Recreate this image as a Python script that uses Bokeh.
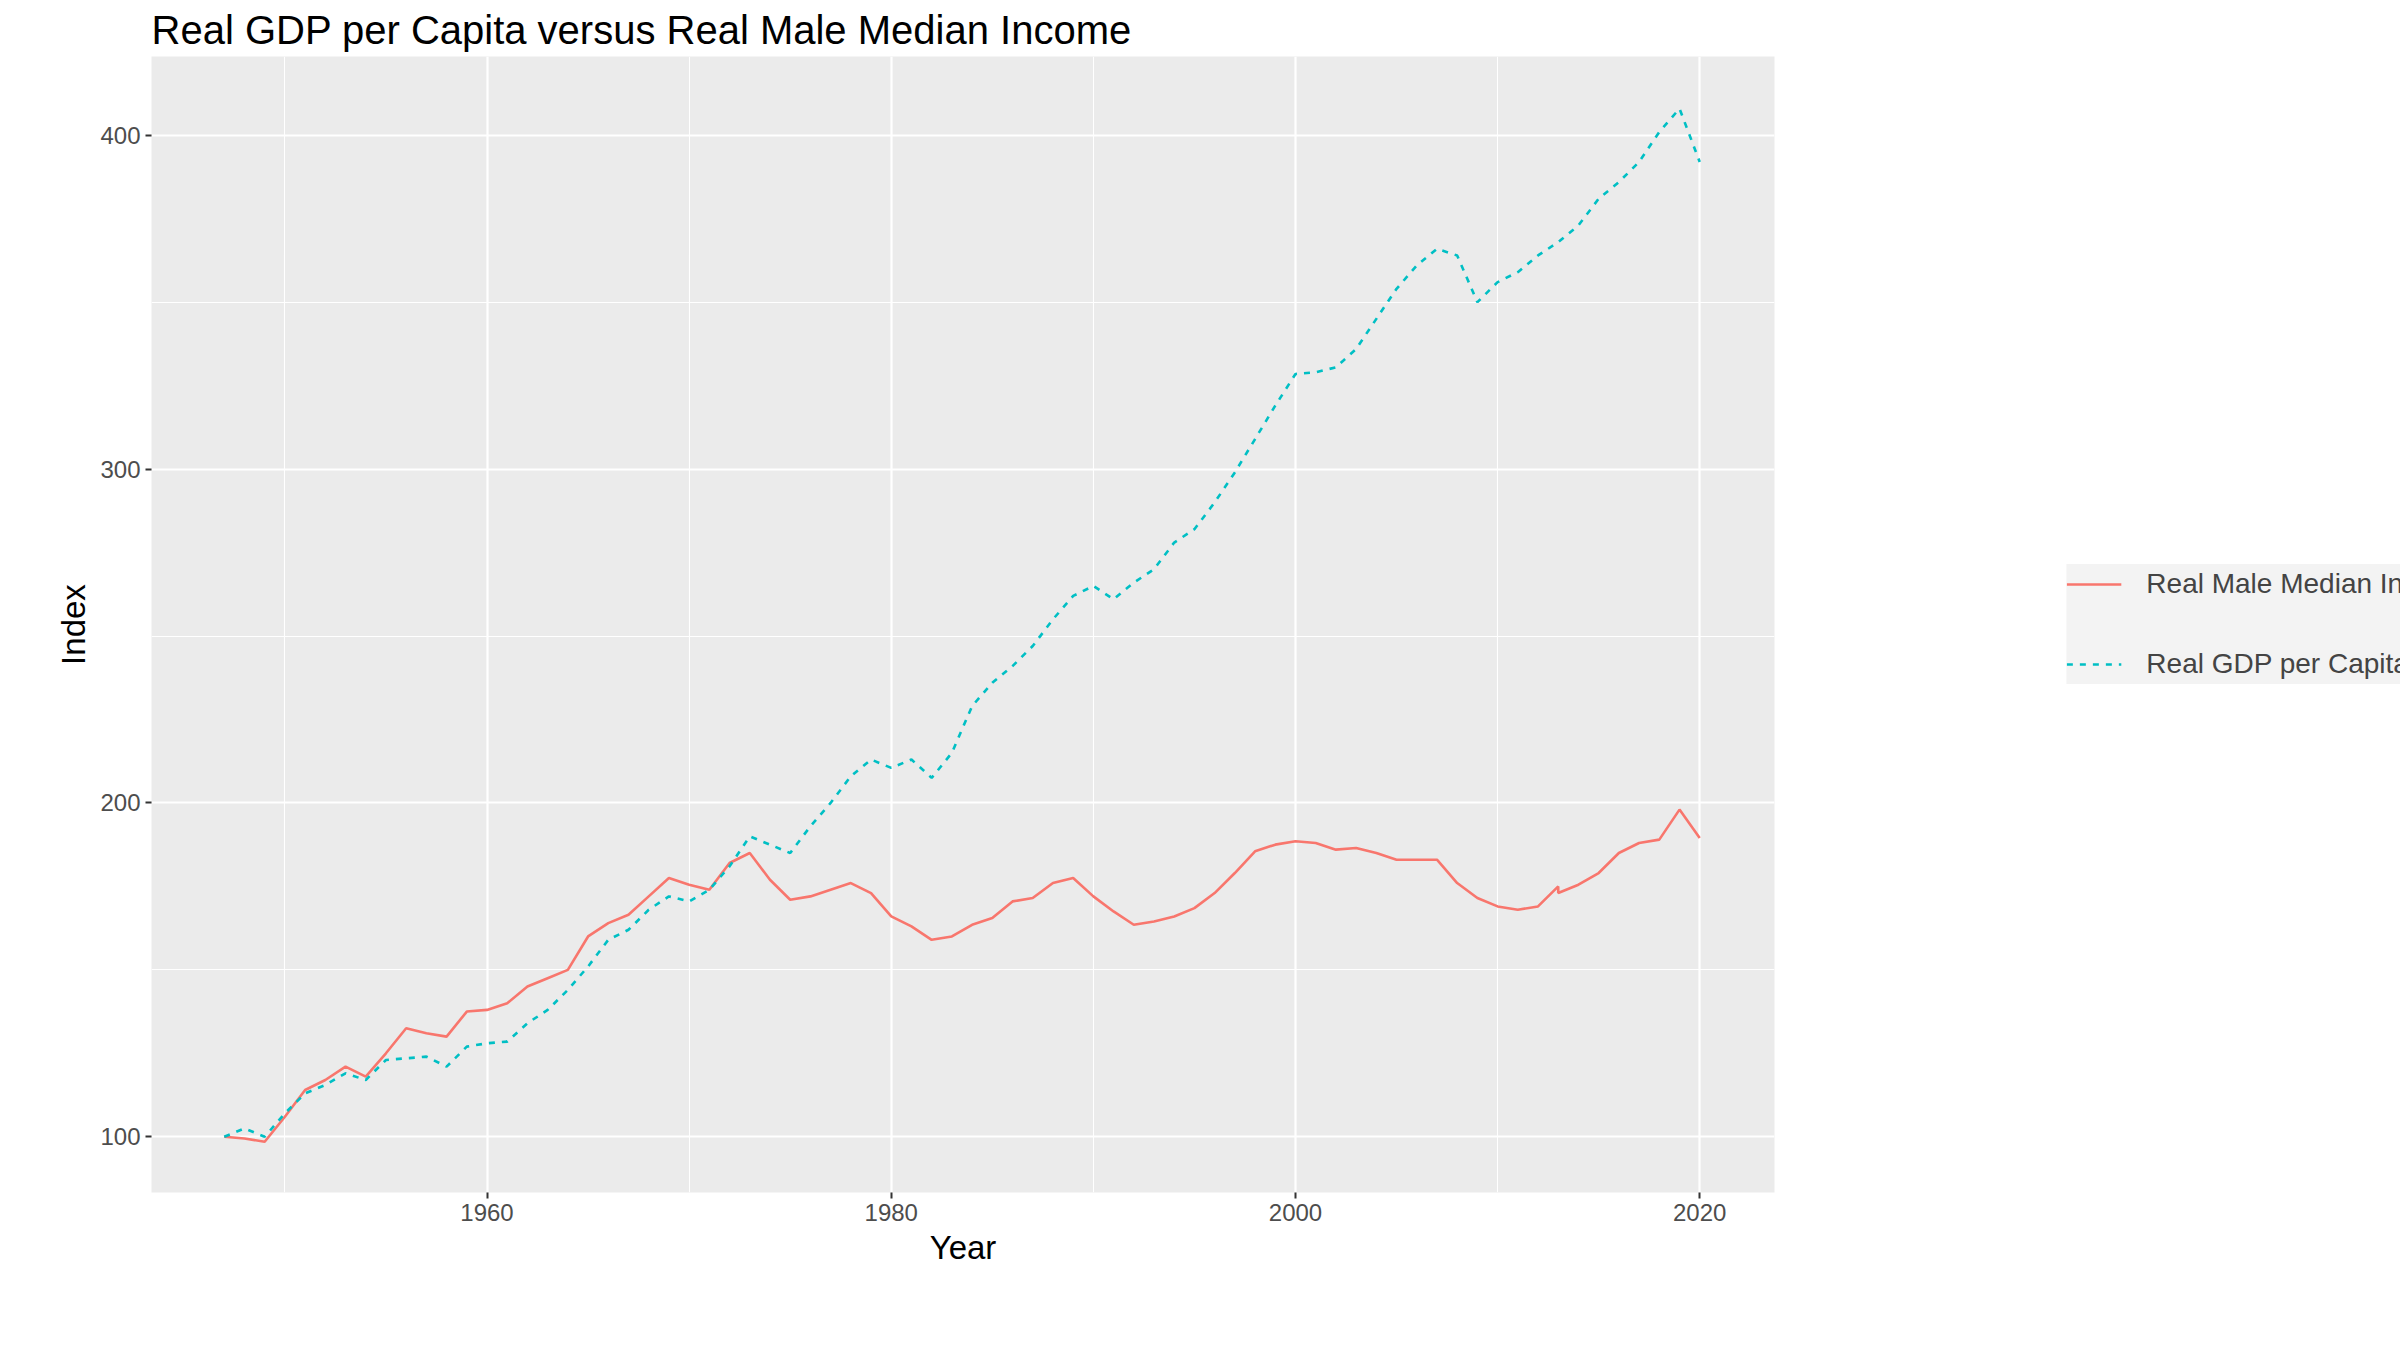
from bokeh.plotting import figure
from bokeh.models import ColumnDataSource, Legend, LegendItem, FixedTicker, Range1d
from bokeh.embed import file_html
from bokeh.resources import INLINE

# Real male median income index (2013 appears twice in the source series)
income_years = list(range(1947, 2014)) + list(range(2013, 2021))
income = [100, 99.5, 98.5, 106, 114, 117, 121, 118, 125, 132.5,
          131, 130, 137.5, 138, 140, 145, 147.5, 150, 160, 164,
          166.5, 172, 177.5, 175.5, 174, 182, 185, 177, 171, 172,
          174, 176, 173, 166, 163, 159, 160, 163.5, 165.5, 170.5,
          171.5, 176, 177.5, 172, 167.5, 163.5, 164.5, 166, 168.5, 173,
          179, 185.5, 187.5, 188.5, 188, 186, 186.5, 185, 183, 183,
          183, 176, 171.5, 169, 168, 169, 175,
          173, 175.5, 179, 185, 188, 189, 198, 189.5]

# Real GDP per capita index
gdp_years = list(range(1947, 2021))
gdp = [100, 102.5, 100, 107, 113, 115.5, 119, 117, 123, 123.5,
       124, 121, 127, 128, 128.5, 134, 138, 144, 151, 159,
       162, 168, 172, 170.5, 174, 181, 190, 187.5, 185, 193,
       200, 208, 213, 210.5, 213, 207.5, 215, 229, 236, 241,
       247, 255, 262, 265, 261, 266, 270, 278, 282, 290,
       299, 309, 319, 328.5, 329, 330.5, 336, 345, 354, 361,
       366, 364, 350, 356, 359, 364, 368, 373, 381, 386,
       392, 401, 408, 392]

FONT = "Liberation Sans"

p = figure(frame_width=1623, frame_height=1136, output_backend="svg", toolbar_location=None,
           x_range=Range1d(1943.4, 2023.7), y_range=Range1d(83.3, 423.6),
           title="Real GDP per Capita versus Real Male Median Income",
           min_border_left=151, min_border_right=20, min_border_top=30, min_border_bottom=20)

p.background_fill_color = "#EBEBEB"
p.border_fill_color = "white"
p.outline_line_color = None

p.title.text_font = FONT
p.title.text_font_size = "40px"
p.title.text_font_style = "normal"
p.title.text_color = "black"

p.xaxis.ticker = FixedTicker(ticks=[1960, 1980, 2000, 2020], minor_ticks=[1950, 1970, 1990, 2010])
p.yaxis.ticker = FixedTicker(ticks=[100, 200, 300, 400], minor_ticks=[150, 250, 350])
p.xaxis.axis_label = "Year"
p.yaxis.axis_label = "Index"
for ax in (p.xaxis, p.yaxis):
    ax.axis_line_color = None
    ax.major_tick_line_color = "#333333"
    ax.major_tick_line_width = 2
    ax.major_tick_in = 0
    ax.major_tick_out = 6
    ax.minor_tick_line_color = None
    ax.major_label_text_font = FONT
    ax.major_label_text_font_size = "24px"
    ax.major_label_text_color = "#4D4D4D"
    ax.axis_label_text_font = FONT
    ax.axis_label_text_font_size = "33px"
    ax.axis_label_text_font_style = "normal"
    ax.axis_label_text_color = "black"

p.grid.grid_line_color = "white"
p.grid.grid_line_width = 2.2
p.grid.minor_grid_line_color = "white"
p.grid.minor_grid_line_width = 1.1

src_inc = ColumnDataSource(dict(x=income_years, y=income))
src_gdp = ColumnDataSource(dict(x=gdp_years, y=gdp))
r_inc = p.line("x", "y", source=src_inc, line_color="#F8766D", line_width=2.6)
r_gdp = p.line("x", "y", source=src_gdp, line_color="#00BFC4", line_width=2.6, line_dash="6 7")

legend = Legend(items=[LegendItem(label="Real Male Median Income", renderers=[r_inc]),
                       LegendItem(label="Real GDP per Capita", renderers=[r_gdp])],
                location="center", background_fill_color="#F2F2F2", border_line_color=None,
                label_text_font=FONT, label_text_font_size="28px",
                glyph_width=55, glyph_height=40, label_height=40, spacing=40,
                padding=14, margin=0, label_standoff=25)
p.add_layout(legend, "right")
legend.margin = 70

open("out.html", "w").write(file_html(p, INLINE))
